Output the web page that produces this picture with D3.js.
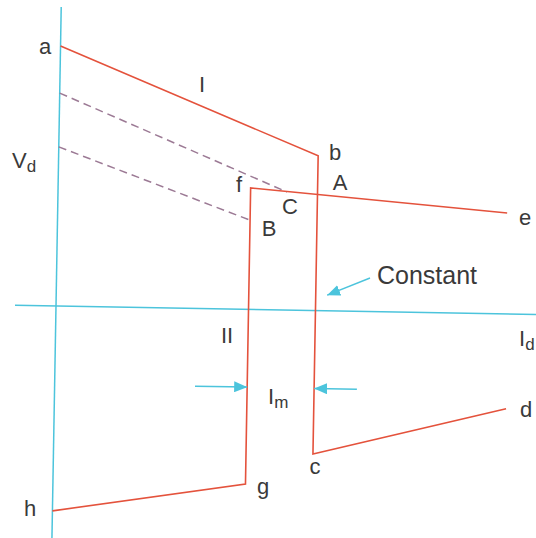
<!DOCTYPE html>
<html><head><meta charset="utf-8">
<script src="https://cdn.jsdelivr.net/npm/d3@7"></script>
<style>body{margin:0;background:#fff}svg{display:block}text{font-family:"Liberation Sans",Arial,sans-serif;fill:#3a3a3a}</style>
</head><body>
<script>
// ---- data (Id in p.u. of current order, Vd in p.u.) ----
const rectifierPts = [[0, 1.0], [1.0, 0.595], [1.0, -0.552], [1.741, -0.365]];   // a b c d
const inverterPts  = [[1.732, 0.388], [0.742, 0.467], [0.742, -0.672], [0, -0.788]]; // e f g h
const dashedUpper  = [[0, 0.819], [0.882, 0.454]];
const dashedLower  = [[0, 0.612], [0.742, 0.343]];
const idAxisExtent = [-0.158, 1.85];
const vdAxisExtent = [-0.9, 1.15];
const marginArrowLeft  = [[0.541, -0.299], [0.742, -0.299]];
const marginArrowRight = [[1.165, -0.300], [1.0, -0.300]];
const constantArrow    = [[1.208, 0.129], [1.044, 0.060]];
const pointNames = ["a", "b", "c", "d", "e", "f", "g", "h"];

const W = 536, H = 538;
const svg = d3.select("body").append("svg").attr("width", W).attr("height", H);
const x = d3.scaleLinear().domain([0, 1]).range([56, 315.5]);
const y = d3.scaleLinear().domain([0, 1]).range([306, 46]);
const g = svg.append("g").attr("transform", "rotate(1,56,306)");

const cyan = "#4cc4dc", red = "#e4523c", dash = "#9c7a95";
const line = d3.line().x(d => x(d[0])).y(d => y(d[1]));

// axes
g.append("line").attr("x1", x(idAxisExtent[0])).attr("x2", x(idAxisExtent[1]))
  .attr("y1", y(0)).attr("y2", y(0)).attr("stroke", cyan).attr("stroke-width", 1.5);
g.append("line").attr("x1", x(0)).attr("x2", x(0))
  .attr("y1", y(vdAxisExtent[0])).attr("y2", y(vdAxisExtent[1])).attr("stroke", cyan).attr("stroke-width", 1.5);

// dashed
[dashedUpper, dashedLower].forEach(d => g.append("path").attr("d", line(d))
  .attr("fill", "none").attr("stroke", dash).attr("stroke-width", 1.5).attr("stroke-dasharray", "8,5"));

// characteristics
[rectifierPts, inverterPts].forEach(d => g.append("path").attr("d", line(d))
  .attr("fill", "none").attr("stroke", red).attr("stroke-width", 1.6).attr("stroke-linejoin", "miter"));

// arrows
const defs = svg.append("defs");
defs.append("marker").attr("id", "ah").attr("viewBox", "0 0 13 11").attr("refX", 13).attr("refY", 5.5)
  .attr("markerWidth", 13).attr("markerHeight", 11).attr("markerUnits", "userSpaceOnUse").attr("orient", "auto")
  .append("path").attr("d", "M0,0L13,5.5L0,11Z").attr("fill", cyan);
[marginArrowLeft, marginArrowRight, constantArrow].forEach(d => g.append("path").attr("d", line(d))
  .attr("stroke", cyan).attr("stroke-width", 1.5).attr("fill", "none").attr("marker-end", "url(#ah)"));

// labels (screen positions)
const fs = 22;
function lab(t, px, py, size, anchor) {
  return svg.append("text").attr("x", px).attr("y", py).attr("font-size", size || fs)
    .attr("text-anchor", anchor || "middle").attr("dominant-baseline", "central").text(t);
}
const pos = {a:[45,46], b:[335,152], c:[315,466], d:[526,409], e:[525,217], f:[239,184], g:[263,486], h:[30,508]};
pointNames.forEach(n => lab(n, pos[n][0], pos[n][1]));
lab("I", 202, 84); lab("II", 227, 335);
lab("A", 340, 182); lab("B", 269, 228); lab("C", 290, 206);
lab("Constant", 377, 275, 25, "start");
function sub(main, s, px, py) {
  const t = svg.append("text").attr("x", px).attr("y", py).attr("font-size", fs).attr("dominant-baseline", "central");
  t.append("tspan").text(main);
  t.append("tspan").attr("font-size", 17).attr("dy", 6).text(s);
}
sub("V", "d", 12, 160); sub("I", "d", 519, 338); sub("I", "m", 268, 396);
</script>
</body></html>
